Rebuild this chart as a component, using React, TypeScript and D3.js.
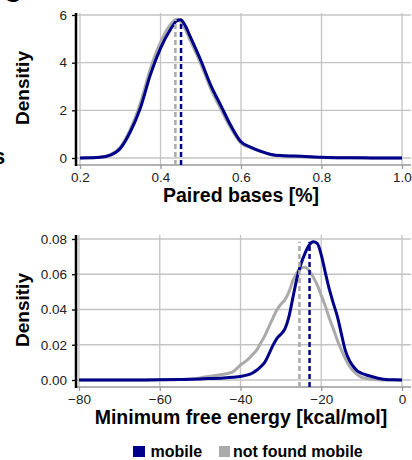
import React, { useRef, useEffect } from 'react';
import * as d3 from 'd3';

// Paired bases panel (density curves)
const pairedX = [0.2, 0.225, 0.25, 0.275, 0.3, 0.325, 0.35, 0.375, 0.4, 0.425, 0.44, 0.45, 0.46, 0.475, 0.5, 0.525, 0.55, 0.575, 0.6, 0.625, 0.65, 0.675, 0.7, 0.75, 0.8, 0.85, 0.9, 0.95, 1.0];
const pairedMobile = [0, 0.01, 0.03, 0.12, 0.4, 1.1, 2.1, 3.5, 4.6, 5.4, 5.75, 5.8, 5.6, 5.05, 4.1, 3.05, 2.2, 1.35, 0.68, 0.45, 0.28, 0.15, 0.1, 0.07, 0.03, 0.01, 0.01, 0, 0];
const pairedNotFound = [0, 0.01, 0.03, 0.13, 0.45, 1.2, 2.3, 3.75, 4.85, 5.6, 5.82, 5.72, 5.45, 4.9, 3.95, 2.9, 2.05, 1.25, 0.62, 0.42, 0.26, 0.14, 0.09, 0.06, 0.02, 0.01, 0, 0, 0];
const pairedMeans = { mobile: 0.451, notFound: 0.437 };
const pairedXTicks = [0.2, 0.4, 0.6, 0.8, 1.0];
const pairedYTicks = [0, 2, 4, 6];

// Minimum free energy panel
const mfeX = [-80, -70, -60, -55, -50, -48, -45, -42, -40, -38, -37, -36, -35, -34, -33, -32, -31, -30, -29, -28, -27, -26, -25, -24, -23, -22, -21, -20, -19, -18, -17, -16, -15, -14, -13, -12, -11, -10, -9, -8, -6, -4, -2, 0];
const mfeMobile = [0, 0, 0.0001, 0.0003, 0.0006, 0.0008, 0.001, 0.0015, 0.002, 0.003, 0.004, 0.0055, 0.0075, 0.01, 0.0145, 0.0195, 0.0235, 0.026, 0.029, 0.036, 0.047, 0.058, 0.066, 0.072, 0.0765, 0.0785, 0.0775, 0.071, 0.061, 0.0515, 0.0435, 0.036, 0.026, 0.0165, 0.011, 0.0075, 0.005, 0.0038, 0.003, 0.0023, 0.001, 0.0003, 0.0001, 0];
const mfeNotFound = [0, 0, 0.0001, 0.0003, 0.0012, 0.002, 0.003, 0.0045, 0.0085, 0.012, 0.0145, 0.017, 0.021, 0.025, 0.03, 0.035, 0.0397, 0.043, 0.0455, 0.05, 0.0565, 0.061, 0.0635, 0.064, 0.062, 0.0585, 0.054, 0.048, 0.042, 0.035, 0.029, 0.0225, 0.017, 0.012, 0.0078, 0.005, 0.003, 0.0015, 0.001, 0.0005, 0.0001, 0, 0, 0];
const mfeMeans = { mobile: -22.9, notFound: -25.4 };
const mfeXTicks = [-80, -60, -40, -20, 0];
const mfeYTicks = [0, 0.02, 0.04, 0.06, 0.08];

const legendItems = ['mobile', 'not found mobile'];

const BLUE = '#00008b';
const GRAY = '#aaaaaa';
const GRID = '#c4c4c4';
const FONT = '"Liberation Sans", Arial, sans-serif';

const drawPanel = (svg, p) => {
  const g = svg.append('g');
  const x = d3.scaleLinear().domain(p.xDomain).range(p.xRange);
  const y = d3.scaleLinear().domain(p.yDomain).range(p.yRange);

  // gridlines
  g.selectAll('.vgrid').data(p.xTicks).join('line')
    .attr('x1', d => x(d)).attr('x2', d => x(d))
    .attr('y1', p.top).attr('y2', p.bottom)
    .attr('stroke', GRID).attr('stroke-width', 1.3);
  g.selectAll('.hgrid').data(p.yTicks).join('line')
    .attr('x1', p.left).attr('x2', p.right)
    .attr('y1', d => y(d)).attr('y2', d => y(d))
    .attr('stroke', GRID).attr('stroke-width', 1.3);

  // x axis
  const xAxis = g.append('g')
    .attr('transform', `translate(0,${p.bottom})`)
    .call(d3.axisBottom(x).tickValues(p.xTicks).tickFormat(p.xFormat).tickSize(4).tickPadding(3));
  xAxis.select('.domain').remove();
  xAxis.selectAll('line').attr('stroke', '#999').attr('stroke-width', 1.3);
  xAxis.selectAll('text').attr('fill', '#222').style('font-family', FONT).style('font-size', '13.5px');
  g.append('line')
    .attr('x1', p.left).attr('x2', p.right)
    .attr('y1', p.bottom).attr('y2', p.bottom)
    .attr('stroke', '#999').attr('stroke-width', 1.5);

  // y axis
  const yAxis = g.append('g')
    .attr('transform', `translate(${p.left},0)`)
    .call(d3.axisLeft(y).tickValues(p.yTicks).tickFormat(p.yFormat).tickSize(4).tickPadding(5));
  yAxis.select('.domain').remove();
  yAxis.selectAll('line').attr('stroke', '#000').attr('stroke-width', 1.3);
  yAxis.selectAll('text').attr('fill', '#222').style('font-family', FONT).style('font-size', '13.5px');
  g.append('line')
    .attr('x1', p.left).attr('x2', p.left)
    .attr('y1', p.top).attr('y2', p.bottom + 1)
    .attr('stroke', '#000').attr('stroke-width', 2.5);

  // density curves
  const line = d3.line().x(d => x(d[0])).y(d => y(d[1])).curve(d3.curveMonotoneX);
  g.append('path')
    .datum(p.xs.map((v, i) => [v, p.notFound[i]]))
    .attr('d', line).attr('fill', 'none')
    .attr('stroke', GRAY).attr('stroke-width', 3).attr('stroke-linejoin', 'round');
  g.append('path')
    .datum(p.xs.map((v, i) => [v, p.mobile[i]]))
    .attr('d', line).attr('fill', 'none')
    .attr('stroke', BLUE).attr('stroke-width', 3).attr('stroke-linejoin', 'round');

  // mean lines
  const maxD = d3.max([...p.mobile, ...p.notFound]);
  [[p.means.notFound, GRAY], [p.means.mobile, BLUE]].forEach(([m, c]) => {
    g.append('line')
      .attr('x1', x(m)).attr('x2', x(m))
      .attr('y1', p.bottom).attr('y2', y(maxD))
      .attr('stroke', c).attr('stroke-width', 2.5)
      .attr('stroke-dasharray', '5,3');
  });

  // axis titles
  g.append('text')
    .attr('x', 241).attr('y', p.bottom + 37)
    .attr('text-anchor', 'middle')
    .style('font-family', FONT).style('font-size', '19.5px').style('font-weight', 'bold')
    .text(p.xTitle);
  g.append('text')
    .attr('transform', `translate(29,${(p.top + p.bottom) / 2 - 1}) rotate(-90)`)
    .attr('text-anchor', 'middle')
    .style('font-family', FONT).style('font-size', '19px').style('font-weight', 'bold')
    .text('Densitiy');
};

const App = () => {
  const ref = useRef(null);

  useEffect(() => {
    const svg = d3.select(ref.current);
    svg.selectAll('*').remove();

    // clipped pieces of neighbouring panels
    svg.append('text').attr('x', 3).attr('y', 2)
      .style('font-family', FONT).style('font-size', '26px').style('font-weight', 'bold')
      .text('C');
    svg.append('text').attr('x', -7).attr('y', 164)
      .style('font-family', FONT).style('font-size', '22px').style('font-weight', 'bold')
      .text('s');

    drawPanel(svg, {
      xs: pairedX, mobile: pairedMobile, notFound: pairedNotFound, means: pairedMeans,
      xTicks: pairedXTicks, yTicks: pairedYTicks,
      xDomain: [0.2, 1.0], xRange: [80, 402],
      yDomain: [0, 6], yRange: [158, 15],
      left: 76, right: 411, top: 13, bottom: 165,
      xFormat: d3.format('.1f'), yFormat: d3.format('d'),
      xTitle: 'Paired bases [%]',
    });

    drawPanel(svg, {
      xs: mfeX, mobile: mfeMobile, notFound: mfeNotFound, means: mfeMeans,
      xTicks: mfeXTicks, yTicks: mfeYTicks,
      xDomain: [-80, 0], xRange: [79, 402],
      yDomain: [0, 0.08], yRange: [380, 239],
      left: 76, right: 411, top: 235, bottom: 387,
      xFormat: d3.format('d'), yFormat: d3.format('.2f'),
      xTitle: 'Minimum free energy [kcal/mol]',
    });

    // legend
    const legX = [133, 219];
    const legend = svg.append('g');
    legendItems.forEach((name, i) => {
      legend.append('rect')
        .attr('x', legX[i]).attr('y', 446).attr('width', i === 0 ? 12 : 11).attr('height', 11)
        .attr('fill', i === 0 ? BLUE : GRAY);
      legend.append('text')
        .attr('x', legX[i] + (i === 0 ? 17.5 : 14)).attr('y', 457)
        .style('font-family', FONT).style('font-size', '16px').style('font-weight', 'bold')
        .text(name);
    });
  }, []);

  return (
    <svg ref={ref} width={412} height={460}
      style={{ position: 'absolute', left: 0, top: 0, background: '#fff' }} />
  );
};

export default App;
